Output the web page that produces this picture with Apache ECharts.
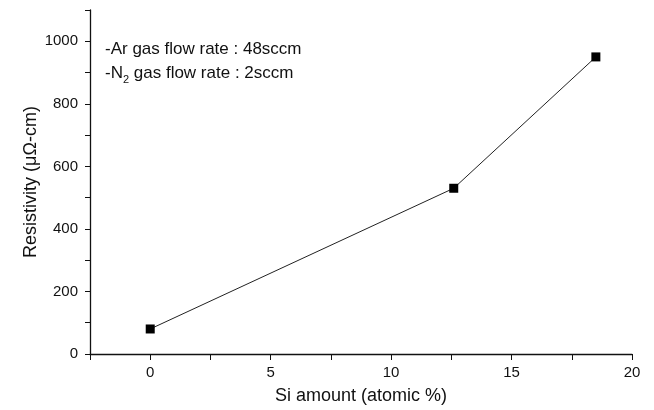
<!DOCTYPE html>
<html>
<head>
<meta charset="utf-8">
<script src="https://cdn.jsdelivr.net/npm/echarts@6/dist/echarts.min.js"></script>
<style>html,body{margin:0;padding:0;background:#fff;}#c{width:654px;height:410px;}</style>
</head>
<body>
<div id="c"></div>
<script>
var siAmount = [0, 12.6, 18.5];
var resistivity = [80, 530, 950];
var xTicks = [0, 5, 10, 15, 20];
var yTicks = [0, 200, 400, 600, 800, 1000];
var noteLines = ['-Ar gas flow rate : 48sccm', '-N{sub|2} gas flow rate : 2sccm'];

var chart = echarts.init(document.getElementById('c'));
var font = 'Liberation Sans, Arial, sans-serif';
var points = siAmount.map(function (x, i) { return [x, resistivity[i]]; });
chart.setOption({
  animation: false,
  backgroundColor: '#fff',
  grid: { left: 90, right: 22, top: 10, bottom: 52, containLabel: false },
  xAxis: {
    type: 'value', min: -2.5, max: 20, interval: 2.5,
    name: 'Si amount (atomic %)', nameLocation: 'middle', nameGap: 33,
    nameMoveOverlap: false,
    nameTextStyle: { fontFamily: font, fontSize: 18, color: '#111' },
    axisLine: { onZero: false, lineStyle: { color: '#111', width: 1.3 } },
    axisTick: { show: true, inside: false, length: 6, lineStyle: { color: '#111' } },
    axisLabel: { fontFamily: font, fontSize: 15, color: '#111', margin: 11,
      formatter: function (v) { return xTicks.indexOf(v) >= 0 ? String(v) : ''; } },
    splitLine: { show: false }
  },
  yAxis: {
    type: 'value', min: 0, max: 1100, interval: 100,
    name: 'Resistivity (\u03bc\u03a9-cm)', nameLocation: 'middle', nameGap: 50,
    nameMoveOverlap: false,
    nameTextStyle: { fontFamily: font, fontSize: 18, color: '#111' },
    axisLine: { show: true, onZero: false, lineStyle: { color: '#111', width: 1.3 } },
    axisTick: { show: true, inside: false, length: 5, lineStyle: { color: '#111' } },
    axisLabel: { fontFamily: font, fontSize: 15, color: '#111', margin: 12,
      formatter: function (v) { return yTicks.indexOf(v) >= 0 ? String(v) : ''; } },
    splitLine: { show: false }
  },
  series: [{
    type: 'line', data: points,
    symbol: 'rect', symbolSize: 9,
    itemStyle: { color: '#000' },
    lineStyle: { color: '#222', width: 1 }
  }],
  graphic: [{
    type: 'text', left: 105, top: 37,
    style: {
      text: noteLines.join('\n'),
      fontFamily: font, fontSize: 17, fill: '#111', lineHeight: 24,
      rich: { sub: { fontSize: 11, verticalAlign: 'bottom', padding: [9, 0, 0, 0], fontFamily: font, fill: '#111' } }
    }
  }]
});
</script>
</body>
</html>
